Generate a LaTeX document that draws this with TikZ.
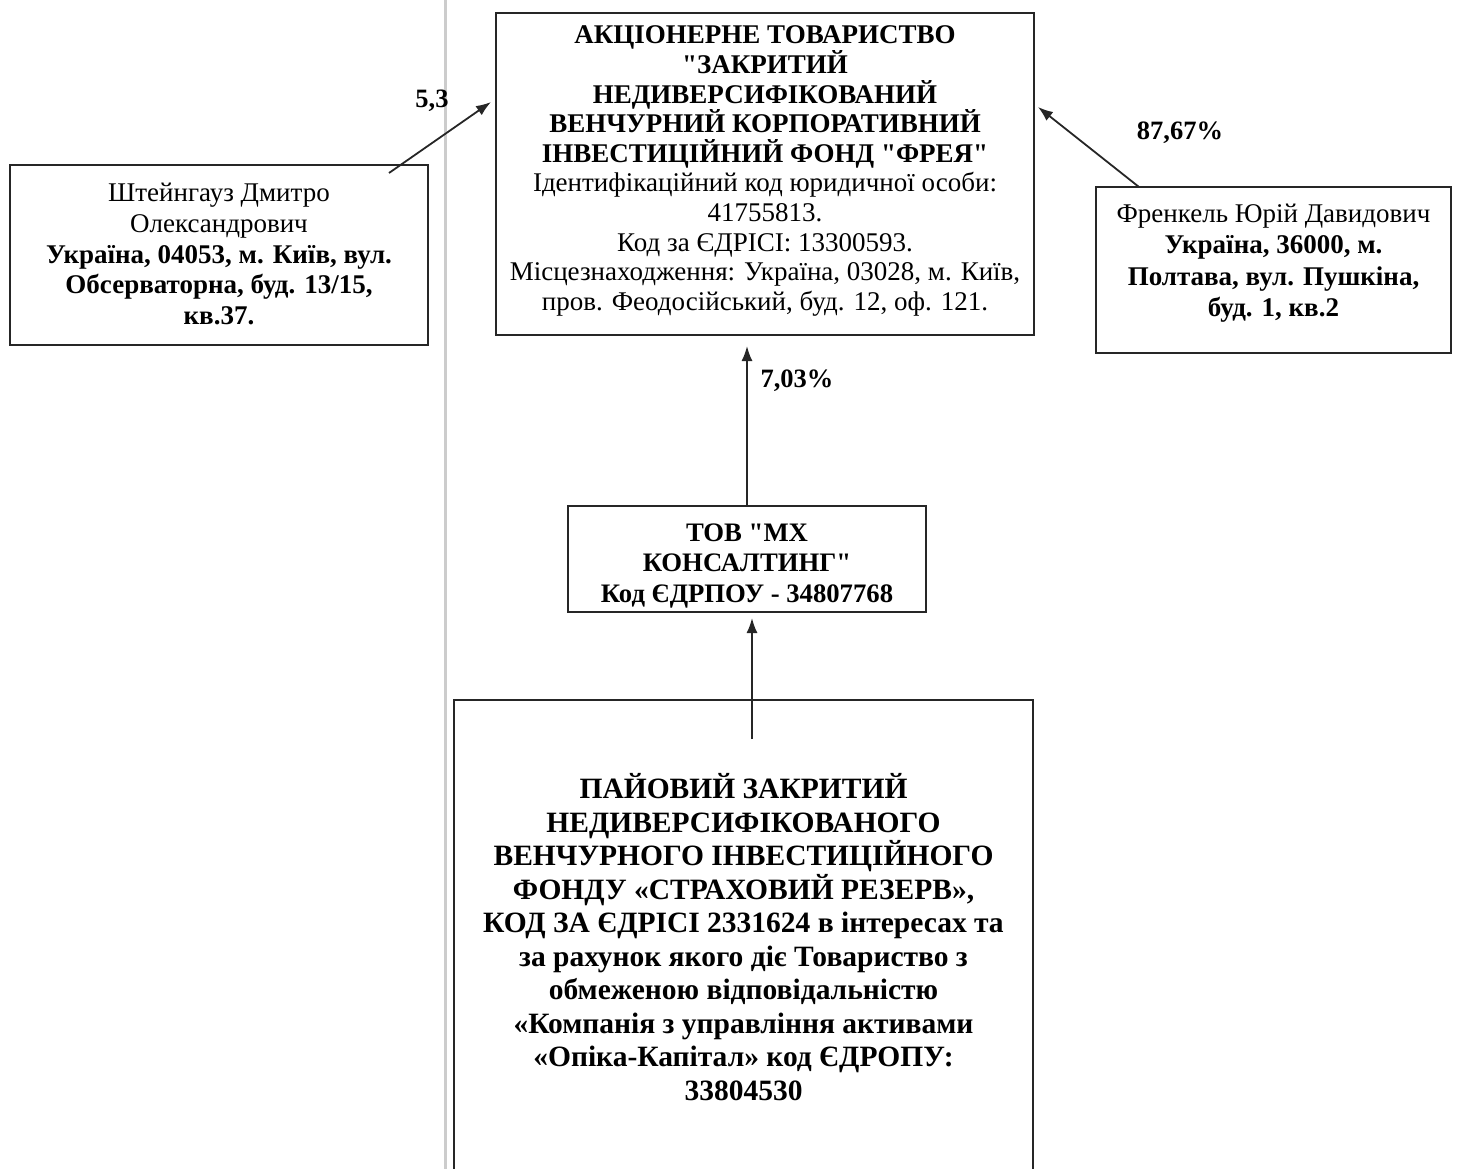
\documentclass[tikz,border=0pt]{standalone}
\usepackage{fontspec}
\setmainfont{Liberation Serif}[Ligatures=TeXOff]
\usetikzlibrary{arrows.meta}
\begin{document}
\begin{tikzpicture}[x=1pt,y=-1pt,
  box/.style={draw=black!85, line width=2pt, rectangle, inner sep=0pt, fill=white},
  txt/.style={align=center, inner sep=0pt},
  arr/.style={draw=black!85, line width=1.8pt, -{Latex[length=15pt,width=11pt]}},
  lbl/.style={inner sep=0pt, font=\fontsize{26.5}{30}\selectfont\bfseries}]
\useasboundingbox (0,0) rectangle (1461,1169);
\draw[black!20, line width=3pt] (445,0) -- (445,1169);
% boxes
\node[box, minimum width=538pt, minimum height=322pt] (main) at (765,174) {};
\node[box, minimum width=418pt, minimum height=180pt] (left) at (219,255) {};
\node[box, minimum width=355pt, minimum height=166pt] (right) at (1273.5,270) {};
\node[box, minimum width=358pt, minimum height=106pt] (mx) at (747,559) {};
\node[box, minimum width=579pt, minimum height=480pt] (bot) at (743.5,940) {};
% texts
\node[txt, font=\fontsize{27}{29.6}\selectfont] (maintxt) at (765,171) {%
\textbf{АКЦІОНЕРНЕ ТОВАРИСТВО}\\
\textbf{"ЗАКРИТИЙ}\\
\textbf{НЕДИВЕРСИФІКОВАНИЙ}\\
\textbf{ВЕНЧУРНИЙ КОРПОРАТИВНИЙ}\\
\textbf{ІНВЕСТИЦІЙНИЙ ФОНД "ФРЕЯ"}\\
Ідентифікаційний код юридичної особи:\\
41755813.\\
Код за ЄДРІСІ: 13300593.\\
Місцезнаходження: Україна, 03028, м. Київ,\\
пров. Феодосійський, буд. 12, оф. 121.};
\node[txt, font=\fontsize{27}{30.7}\selectfont] (lefttxt) at (219,254) {%
Штейнгауз Дмитро\\
Олександрович\\
\textbf{Україна, 04053, м. Київ, вул.}\\
\textbf{Обсерваторна, буд. 13/15,}\\
\textbf{кв.37.}};
\node[txt, font=\fontsize{27}{31.5}\selectfont] (righttxt) at (1273.5,263) {%
Френкель Юрій Давидович\\
\textbf{Україна, 36000, м.}\\
\textbf{Полтава, вул. Пушкіна,}\\
\textbf{буд. 1, кв.2}};
\node[txt, font=\fontsize{26.7}{30.5}\selectfont\bfseries] (mxtxt) at (747,566) {%
ТОВ "МХ\\
КОНСАЛТИНГ"\\
Код ЄДРПОУ - 34807768};
\node[txt, font=\fontsize{29.5}{33.5}\selectfont\bfseries] (bottxt) at (743.5,937) {%
ПАЙОВИЙ ЗАКРИТИЙ\\
НЕДИВЕРСИФІКОВАНОГО\\
ВЕНЧУРНОГО ІНВЕСТИЦІЙНОГО\\
ФОНДУ «СТРАХОВИЙ РЕЗЕРВ»,\\
КОД ЗА ЄДРІСІ 2331624 в інтересах та\\
за рахунок якого діє Товариство з\\
обмеженою відповідальністю\\
«Компанія з управління активами\\
«Опіка-Капітал» код ЄДРОПУ:\\
33804530};
% labels
\node[lbl] (l1) at (432,101) {5,3};
\node[lbl] (l2) at (1180,133) {87,67\%};
\node[lbl] (l3) at (797,381) {7,03\%};
% connectors
\coordinate (t1) at ([shift={(0,10)}]main.south);
\draw[arr] ([shift={(-40,9)}]left.north east) -- ([shift={(-4,-72)}]main.west);
\draw[arr] ([shift={(44,1)}]right.north west) -- ([shift={(3,-67)}]main.east);
\draw[arr] (mx.north) -- (mx.north |- t1);
\draw[arr] ([shift={(8.5,40)}]bot.north) -- ([shift={(5,5)}]mx.south);
\end{tikzpicture}
\end{document}
